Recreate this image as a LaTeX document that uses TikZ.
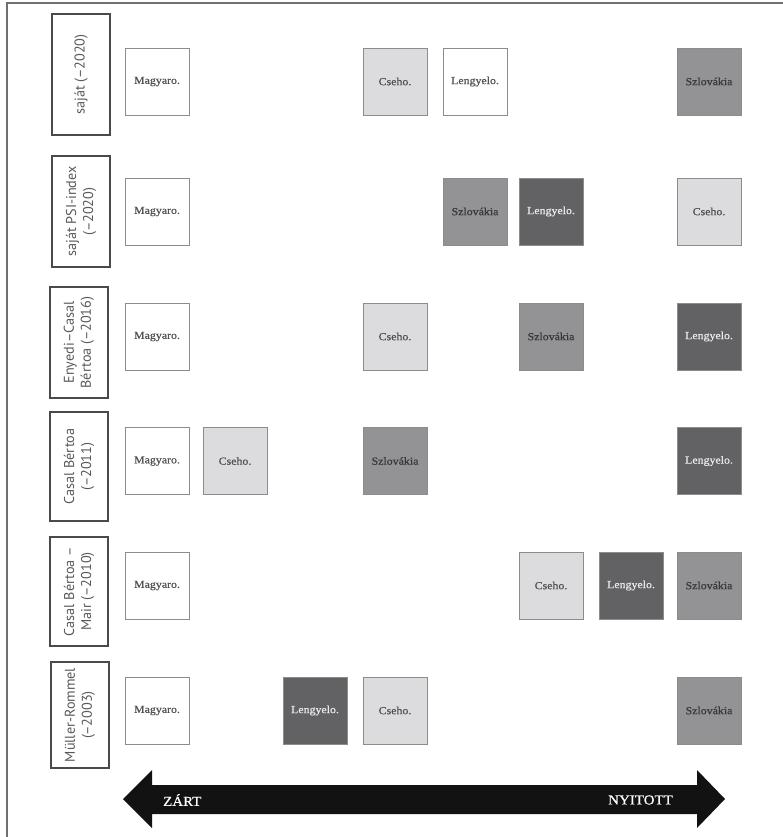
\documentclass[tikz,border=0pt]{standalone}
\usepackage{fontspec}
\setmainfont[FakeStretch=1.1, FakeBold=0.6]{Liberation Serif}
\newfontfamily\labelfont{PT Sans}
\definecolor{cwhite}{HTML}{FFFFFF}
\definecolor{clight}{HTML}{DCDCDE}
\definecolor{cmid}{HTML}{939396}
\definecolor{cdark}{HTML}{626264}
\definecolor{boxline}{HTML}{8C8C8C}
\definecolor{labline}{HTML}{4A4A4A}
\definecolor{frameline}{HTML}{707070}
\tikzset{
  cell/.style={draw=boxline, line width=0.9pt, minimum width=64pt, minimum height=67pt,
    inner sep=0pt, font=\fontsize{10.8}{12}\selectfont},
  open/.style={cell, fill=cwhite, text=black!68},
  light/.style={cell, fill=clight, text=black!68},
  mid/.style={cell, fill=cmid, text=black!78},
  dark/.style={cell, fill=cdark, text=black!8},
  rowlabel/.style={draw=labline, line width=1.1pt, rotate=90, align=center,
    minimum height=58pt, inner sep=0pt, text=black!65,
    font=\labelfont\fontsize{14.2}{17}\selectfont},
  axislabel/.style={text=white, inner sep=0pt, font=\fontsize{13.6}{15}\selectfont}
}
\begin{document}
\begin{tikzpicture}[x=1pt, y=-1pt]
\useasboundingbox (0,0) rectangle (783,837);
% outer frame
\draw[frameline, line width=1.4pt] (7,837) -- (7,3) -- (783,3);

% row labels
\node[rowlabel, minimum width=121pt] (l1) at (81,74.5) {saját (–2020)};
\node[rowlabel, minimum width=111pt] (l2) at (81,211.5) {saját PSI-index\\(–2020)};
\node[rowlabel, minimum width=111pt] (l3) at (79,342.5) {Enyedi–Casal\\Bértoa (–2016)};
\node[rowlabel, minimum width=109pt] (l4) at (79,466.5) {Casal Bértoa\\(–2011)};
\node[rowlabel, minimum width=109pt] (l5) at (79,591.5) {Casal Bértoa –\\Mair (–2010)};
\node[rowlabel, minimum width=106pt] (l6) at (80,715) {Müller-Rommel\\(–2003)};

% row 1
\node[open]  (a1) at (157,81.5) {Magyaro.};
\node[light] (a4) at (395,81.5) {Cseho.};
\node[open]  (a5) at (475,81.5) {Lengyelo.};
\node[mid]   (a8) at (709,81.5) {Szlovákia};
% row 2
\node[open]  (b1) at (157,211.5) {Magyaro.};
\node[mid]   (b5) at (475,211.5) {Szlovákia};
\node[dark]  (b6) at (551,211.5) {Lengyelo.};
\node[light] (b8) at (709,211.5) {Cseho.};
% row 3
\node[open]  (c1) at (157,336.5) {Magyaro.};
\node[light] (c4) at (395,336.5) {Cseho.};
\node[mid]   (c6) at (551,336.5) {Szlovákia};
\node[dark]  (c8) at (709,336.5) {Lengyelo.};
% row 4
\node[open]  (d1) at (157,461) {Magyaro.};
\node[light] (d2) at (235,461) {Cseho.};
\node[mid]   (d4) at (395,461) {Szlovákia};
\node[dark]  (d8) at (709,461) {Lengyelo.};
% row 5
\node[open]  (e1) at (157,585.5) {Magyaro.};
\node[light] (e6) at (551,585.5) {Cseho.};
\node[dark]  (e7) at (631,585.5) {Lengyelo.};
\node[mid]   (e8) at (709,585.5) {Szlovákia};
% row 6
\node[open]  (f1) at (157,710.5) {Magyaro.};
\node[dark]  (f3) at (315,710.5) {Lengyelo.};
\node[light] (f4) at (395,710.5) {Cseho.};
\node[mid]   (f8) at (709,710.5) {Szlovákia};

% closed-open axis
\fill[black!93] (123,799) -- (152,770) -- (152,785) -- (697,785) -- (697,770)
  -- (725,799) -- (697,828) -- (697,814) -- (152,814) -- (152,828) -- cycle;
\node[axislabel, anchor=west] (closed) at (163,800) {ZÁRT};
\node[axislabel, anchor=east] (opened) at (673,800) {NYITOTT};
\end{tikzpicture}
\end{document}
